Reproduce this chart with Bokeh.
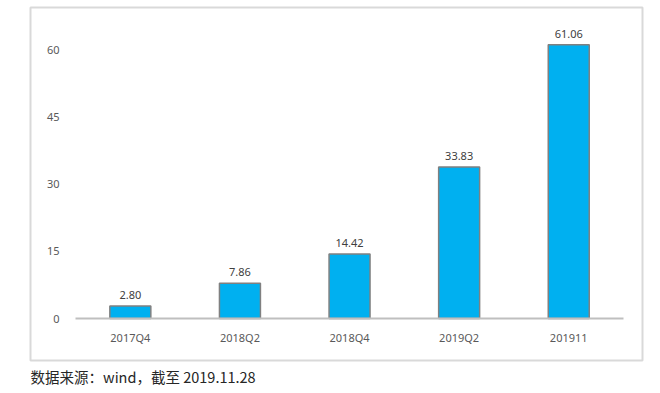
from bokeh.plotting import figure
from bokeh.models import (ColumnDataSource, Range1d, LinearAxis, FixedTicker, Title)
from bokeh.embed import file_html
from bokeh.resources import INLINE
from bokeh.core.properties import value

categories = ["2017Q4", "2018Q2", "2018Q4", "2019Q2", "201911"]
values = [2.80, 7.86, 14.42, 33.83, 61.06]
y_ticks = [0, 15, 30, 45, 60]
caption = "数据来源：wind，截至 2019.11.28"

xs = list(range(len(categories)))
src = ColumnDataSource(dict(x=xs, top=values, label=[f"{v:.2f}" for v in values]))

p = figure(width=652, height=393, output_backend="svg", toolbar_location=None,
           x_range=Range1d(-0.911, 4.673), y_range=Range1d(-9.37, 69.4),
           x_axis_location=None, y_axis_location=None,
           min_border_left=30, min_border_right=10, min_border_top=7, min_border_bottom=33)
p.grid.visible = False
p.outline_line_color = "#D9D9D9"
p.outline_line_width = 2
p.background_fill_color = "white"
p.border_fill_color = "white"

p.vbar(x="x", top="top", width=0.374, bottom=0, source=src,
       fill_color="#00B0F0", line_color="#808080", line_width=1.5)

p.text(x="x", y="top", text="label", source=src, text_align="center",
       text_baseline="bottom", y_offset=-7, text_font=value("Noto Sans"),
       text_font_size="11px", text_color="#404040")

yax = LinearAxis(ticker=FixedTicker(ticks=y_ticks), fixed_location=-0.5)
yax.axis_line_color = None
yax.major_tick_line_color = None
yax.minor_tick_line_color = None
yax.major_tick_out = 0
yax.major_label_standoff = 16
yax.major_label_text_font = "Noto Sans"
yax.major_label_text_font_size = "11px"
yax.major_label_text_color = "#595959"
p.add_layout(yax, "left")

xax = LinearAxis(ticker=FixedTicker(ticks=xs), fixed_location=0, bounds=(-0.5, 4.5))
xax.major_label_overrides = {i: c for i, c in enumerate(categories)}
xax.axis_line_color = "#BFBFBF"
xax.axis_line_width = 2
xax.major_tick_line_color = None
xax.minor_tick_line_color = None
xax.major_tick_out = 0
xax.major_label_standoff = 11
xax.major_label_text_font = "Noto Sans"
xax.major_label_text_font_size = "11px"
xax.major_label_text_color = "#595959"
p.add_layout(xax, "below")

t = Title(text=caption, align="left", text_font="Noto Sans CJK SC",
          text_font_size="14.5px", text_font_style="normal", text_color="#262626",
          standoff=7)
p.add_layout(t, "below")

open("out.html", "w").write(file_html(p, INLINE))
